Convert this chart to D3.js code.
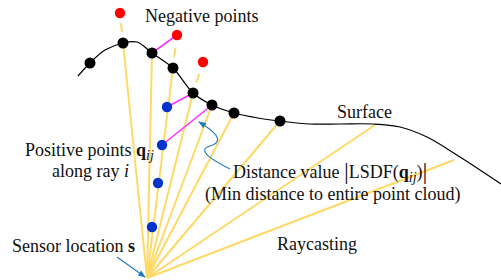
<!DOCTYPE html>
<html>
<head>
<meta charset="utf-8">
<script src="https://cdn.jsdelivr.net/npm/d3@7"></script>
<style>
  body { margin: 0; background: #fff; }
</style>
</head>
<body>
<div id="container"></div>
<script>
// picture coordinates (px of the original figure)
const sensor = [147, 278];

// ray end points on the surface (or in free space)
const rayEnds = [
  [123, 43], [152, 53], [173, 68], [193, 93], [212, 105],
  [234, 113], [280, 121], [375, 125], [454, 160]
];

// surface samples
const surface = [
  [78, 76], [90, 63], [105, 50], [123, 43], [137, 42], [152, 53],
  [173, 68], [193, 93], [212, 105], [234, 113], [258, 118], [280, 121],
  [310, 124], [340, 124], [373, 124], [400, 127], [427, 137], [460, 157], [501, 184]
];

// scanned points that lie on the surface
const hitPoints = [[90, 63], [123, 43], [152, 53], [173, 68], [193, 93], [212, 105], [234, 113], [280, 121]];

// negative samples behind the surface, and the hit each one continues from
const negPoints = [[120, 13], [177, 35], [203, 62]];
const negFrom = [[123, 43], [173, 68], [193, 93]];

// positive samples along ray i
const posPoints = [[167, 107], [162, 145], [158, 183], [152, 227]];

// LSDF distance segments (magenta)
const distSegs = [
  [[152, 53], [177, 35]],
  [[167, 107], [193, 93]],
  [[162, 145], [212, 105]]
];

const width = 501, height = 280;

const x = d3.scaleLinear().domain([0, 501]).range([0, width]);
const y = d3.scaleLinear().domain([0, 280]).range([0, height]);

const yellow = "#ffd966";
const arrowBlue = "#1f78c1";
const serif = "Liberation Serif";

const svg = d3.select("#container").append("svg")
  .attr("width", width).attr("height", height);

const defs = svg.append("defs");
defs.append("marker")
  .attr("id", "head")
  .attr("viewBox", "0 0 10 10")
  .attr("refX", 9).attr("refY", 5)
  .attr("markerWidth", 7).attr("markerHeight", 7)
  .attr("orient", "auto")
  .append("path")
  .attr("d", "M0,1 L10,5 L0,9 z")
  .attr("fill", arrowBlue);

// rays
svg.append("g").selectAll("line").data(rayEnds).enter().append("line")
  .attr("x1", x(sensor[0])).attr("y1", y(sensor[1]))
  .attr("x2", d => x(d[0])).attr("y2", d => y(d[1]))
  .attr("stroke", yellow).attr("stroke-width", 2);

// dashed continuation to negative points
svg.append("g").selectAll("line").data(negPoints).enter().append("line")
  .attr("x1", (d, i) => x(negFrom[i][0])).attr("y1", (d, i) => y(negFrom[i][1]))
  .attr("x2", d => x(d[0])).attr("y2", d => y(d[1]))
  .attr("stroke", yellow).attr("stroke-width", 2)
  .attr("stroke-dasharray", "0,11,9,100");

// surface
const line = d3.line().x(d => x(d[0])).y(d => y(d[1])).curve(d3.curveCatmullRom.alpha(0.5));
svg.append("path").datum(surface)
  .attr("d", line)
  .attr("fill", "none").attr("stroke", "#000").attr("stroke-width", 1.2);

// distance segments
svg.append("g").selectAll("line").data(distSegs).enter().append("line")
  .attr("x1", d => x(d[0][0])).attr("y1", d => y(d[0][1]))
  .attr("x2", d => x(d[1][0])).attr("y2", d => y(d[1][1]))
  .attr("stroke", "#ff33ff").attr("stroke-width", 1.6);

// points
svg.append("g").selectAll("circle").data(hitPoints).enter().append("circle")
  .attr("cx", d => x(d[0])).attr("cy", d => y(d[1])).attr("r", 5.5).attr("fill", "#000");
svg.append("g").selectAll("circle").data(negPoints).enter().append("circle")
  .attr("cx", d => x(d[0])).attr("cy", d => y(d[1])).attr("r", 5.2).attr("fill", "#ff0000");
svg.append("g").selectAll("circle").data(posPoints).enter().append("circle")
  .attr("cx", d => x(d[0])).attr("cy", d => y(d[1])).attr("r", 5.2).attr("fill", "#0033cc");

// arrows
svg.append("path")
  .attr("d", `M${x(230)},${y(169)} C${x(212)},${y(160)} ${x(196)},${y(150)} ${x(210)},${y(146)} C${x(226)},${y(141)} ${x(214)},${y(131)} ${x(199)},${y(122)}`)
  .attr("fill", "none").attr("stroke", arrowBlue).attr("stroke-width", 1.1)
  .attr("marker-end", "url(#head)");
svg.append("line")
  .attr("x1", x(117)).attr("y1", y(257)).attr("x2", x(145)).attr("y2", y(277))
  .attr("stroke", arrowBlue).attr("stroke-width", 1.1)
  .attr("marker-end", "url(#head)");

// labels
const fs = 18;
function label(px, py, parts) {
  const t = svg.append("text").attr("x", x(px)).attr("y", y(py))
    .style("font-family", serif).attr("font-size", fs).attr("fill", "#111");
  parts.forEach(p => {
    const s = t.append("tspan").text(p.t);
    if (p.b) s.attr("font-weight", "bold");
    if (p.i) s.attr("font-style", "italic");
    if (p.dy) s.attr("dy", p.dy);
    if (p.sub) s.attr("font-size", 14);
    if (p.fs) s.attr("font-size", p.fs);
  });
  return t;
}

label(145, 22, [{ t: "Negative points" }]);
label(337, 118, [{ t: "Surface" }]);
label(25, 156, [{ t: "Positive points " }, { t: "q", b: true }, { t: "ij", i: true, sub: true, dy: 4 }]);
label(52, 177, [{ t: "along ray " }, { t: "i", i: true }]);
label(233, 178, [{ t: "Distance value " }, { t: "|", fs: 24, dy: 1 }, { t: "LSDF(", dy: -1 },
  { t: "q", b: true }, { t: "ij", i: true, sub: true, dy: 4 }, { t: ")", dy: -4 }, { t: "|", fs: 24, dy: 1 }]);
label(205, 200, [{ t: "(Min distance to entire point cloud)" }]);
label(277, 250, [{ t: "Raycasting" }]);
label(12, 252, [{ t: "Sensor location " }, { t: "s", b: true }]);
</script>
</body>
</html>
